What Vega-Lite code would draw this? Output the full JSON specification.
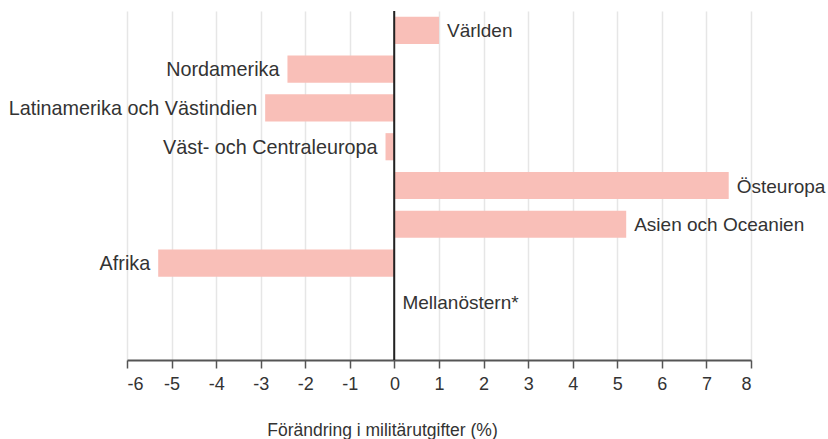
{
  "$schema": "https://vega.github.io/schema/vega-lite/v6.json",
  "width": 624,
  "height": 349,
  "autosize": {"type": "none"},
  "padding": {"left": 127, "top": 11, "right": 77, "bottom": 79},
  "background": "white",
  "config": {
    "view": {"stroke": null},
    "font": "Liberation Sans",
    "text": {"font": "Liberation Sans"}
  },
  "data": {
    "values": [
      {"region": "Världen", "value": 1.0},
      {"region": "Nordamerika", "value": -2.4},
      {"region": "Latinamerika och Västindien", "value": -2.9},
      {"region": "Väst- och Centraleuropa", "value": -0.2},
      {"region": "Östeuropa", "value": 7.5},
      {"region": "Asien och Oceanien", "value": 5.2},
      {"region": "Afrika", "value": -5.3},
      {"region": "Mellanöstern*", "value": 0}
    ]
  },
  "encoding": {
    "y": {
      "field": "region",
      "type": "nominal",
      "scale": {
        "domain": ["Världen", "Nordamerika", "Latinamerika och Västindien", "Väst- och Centraleuropa", "Östeuropa", "Asien och Oceanien", "Afrika", "Mellanöstern*", " "],
        "paddingInner": 0.3,
        "paddingOuter": 0.15
      },
      "axis": null
    }
  },
  "layer": [
    {
      "mark": {"type": "bar", "color": "#f9bfb8"},
      "encoding": {
        "x": {
          "field": "value",
          "type": "quantitative",
          "scale": {"domain": [-6, 8], "nice": false, "zero": false},
          "axis": {
            "values": [-6, -5, -4, -3, -2, -1, 0, 1, 2, 3, 4, 5, 6, 7, 8],
            "labelExpr": "replace(datum.label, '−', '-')",
            "grid": true,
            "gridColor": "#e6e6e6",
            "gridWidth": 1.5,
            "domainColor": "#555555",
            "domainWidth": 2,
            "tickColor": "#555555",
            "tickWidth": 1.5,
            "tickSize": 8,
            "labelFontSize": 18,
            "labelColor": "#333333",
            "labelPadding": 7,
            "labelFont": "Liberation Sans",
            "title": "Förändring i militärutgifter (%)",
            "titleFont": "Liberation Sans",
            "titleFontSize": 17.5,
            "titleFontWeight": "normal",
            "titleColor": "#333333",
            "titleX": 255,
            "titleY": 75,
            "titleAlign": "center",
            "titleBaseline": "alphabetic"
          }
        },
        "x2": {"datum": 0}
      }
    },
    {
      "mark": {"type": "rule", "color": "#222222", "strokeWidth": 1.2},
      "encoding": {
        "x": {"datum": 0, "type": "quantitative"},
        "y": null
      }
    },
    {
      "transform": [{"filter": "datum.value >= 0"}],
      "mark": {"type": "text", "align": "left", "baseline": "middle", "dx": 8, "dy": 1, "fontSize": 19, "color": "#333333"},
      "encoding": {
        "x": {"field": "value", "type": "quantitative"},
        "text": {"field": "region"}
      }
    },
    {
      "transform": [{"filter": "datum.value < 0"}],
      "mark": {"type": "text", "align": "right", "baseline": "middle", "dx": -8, "dy": 1, "fontSize": 19.8, "color": "#333333"},
      "encoding": {
        "x": {"field": "value", "type": "quantitative"},
        "text": {"field": "region"}
      }
    }
  ]
}
